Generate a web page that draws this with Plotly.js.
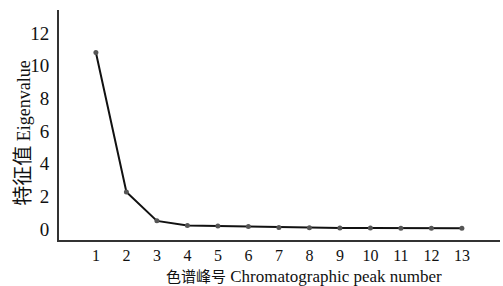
<!DOCTYPE html>
<html>
<head>
<meta charset="utf-8">
<script src="https://cdn.plot.ly/plotly-3.0.1.min.js"></script>
<style>html,body{margin:0;padding:0;background:#fff;}#chart{width:503px;height:286px;}</style>
</head>
<body>
<div id="chart"></div>
<script>
const peakNumbers = [1, 2, 3, 4, 5, 6, 7, 8, 9, 10, 11, 12, 13];
const eigenvalues = [10.8, 2.27, 0.5, 0.22, 0.18, 0.15, 0.1, 0.08, 0.07, 0.06, 0.05, 0.05, 0.05];
const yTickVals = [0, 2, 4, 6, 8, 10, 12];
const xTitleCn = '色谱峰号';
const xTitleEn = 'Chromatographic peak number';
const yTitleCn = '特征值';
const yTitleEn = 'Eigenvalue';

const fontFam = '"Liberation Serif", "Times New Roman", "Noto Sans CJK SC", serif';
const cjkFam = "'Noto Sans CJK SC'";
const textColor = '#111';

const xTitle = '<span style="font-family:' + cjkFam + ';font-size:15px">' + xTitleCn + '</span> ' + xTitleEn;
const yTitle = '<span style="font-family:' + cjkFam + ';font-size:20px">' + yTitleCn + '</span> ' + yTitleEn;

const trace = {
  x: peakNumbers,
  y: eigenvalues,
  type: 'scatter',
  mode: 'lines+markers',
  line: {color: '#111', width: 2},
  marker: {color: '#555', size: 5},
  hoverinfo: 'skip'
};

const layout = {
  width: 503, height: 286,
  margin: {l: 59, r: 3, t: 10, b: 46},
  paper_bgcolor: '#fff', plot_bgcolor: '#fff',
  showlegend: false,
  font: {family: fontFam, color: textColor, size: 16},
  xaxis: {
    range: [-0.21, 14.25],
    tickvals: peakNumbers,
    ticktext: peakNumbers.map(String),
    showgrid: false, zeroline: false,
    showline: true, linecolor: '#333', linewidth: 2,
    ticks: '', ticklabelstandoff: 0,
    tickfont: {family: fontFam, size: 16, color: textColor},
    title: {text: ''}
  },
  yaxis: {
    range: [-0.67, 13.4],
    tickvals: yTickVals,
    ticktext: yTickVals.map(String),
    showgrid: false, zeroline: false,
    showline: true, linecolor: '#333', linewidth: 2,
    ticks: '', ticklabelstandoff: 4,
    tickfont: {family: fontFam, size: 19, color: textColor},
    title: {text: ''}
  },
  annotations: [{
    text: yTitle,
    xref: 'paper', yref: 'paper',
    x: -0.087, y: 0.465,
    xanchor: 'center', yanchor: 'middle',
    textangle: -90, showarrow: false,
    font: {family: fontFam, size: 18, color: textColor}
  }, {
    text: xTitle,
    xref: 'paper', yref: 'paper',
    x: 0.556, y: -0.155,
    xanchor: 'center', yanchor: 'middle',
    showarrow: false, borderpad: 0,
    font: {family: fontFam, size: 17, color: textColor}
  }]
};

Plotly.newPlot('chart', [trace], layout, {displayModeBar: false, staticPlot: true});
</script>
</body>
</html>
